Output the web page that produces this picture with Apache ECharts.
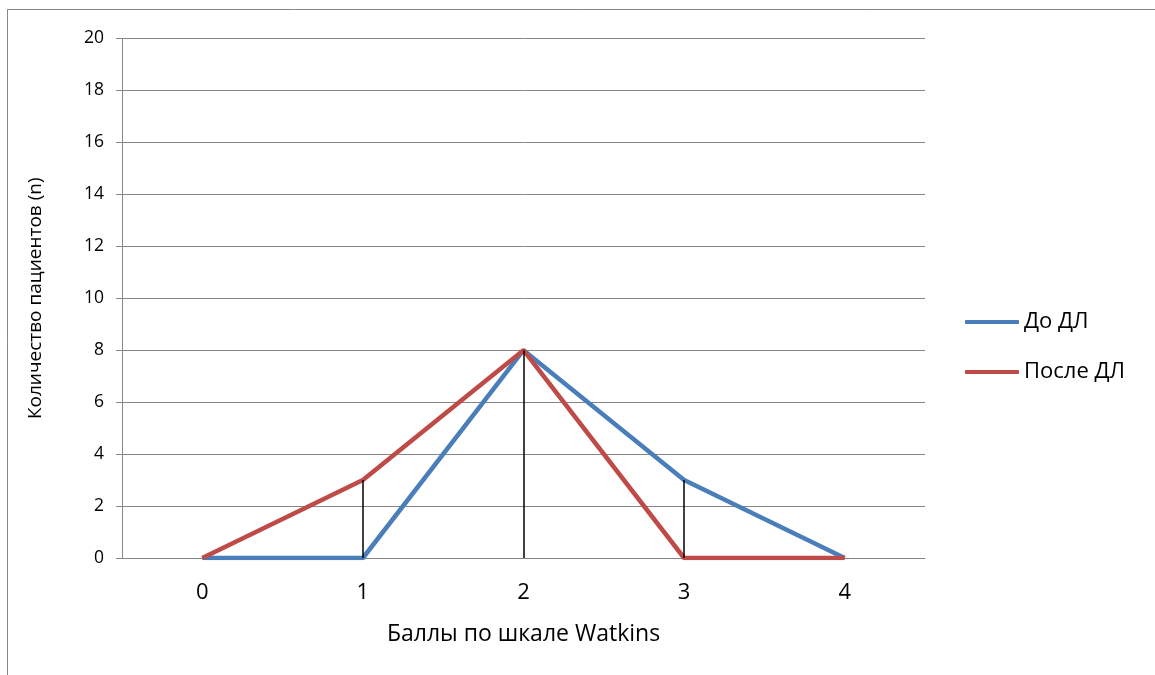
<!DOCTYPE html>
<html>
<head>
<meta charset="utf-8">
<script src="https://cdn.jsdelivr.net/npm/echarts@6/dist/echarts.min.js"></script>
<style>
  html, body { margin: 0; padding: 0; background: #fff; }
  #chart { width: 1155px; height: 675px; }
</style>
</head>
<body>
<div id="chart"></div>
<script>
// Watkins score categories and patient counts
const categories = ['0', '1', '2', '3', '4'];
const beforeDL = [0, 0, 8, 3, 0];   // До ДЛ
const afterDL = [0, 3, 8, 0, 0];    // После ДЛ
const yTicks = { min: 0, max: 20, interval: 2 };

const FONT = 'Open Sans, Liberation Sans, sans-serif';

// Drop lines: from the higher of the two values down to the axis
const dropLines = categories
  .map((c, i) => ({ c, top: Math.max(beforeDL[i], afterDL[i]) }))
  .filter(d => d.top > 0)
  .map(d => [{ coord: [d.c, 0] }, { coord: [d.c, d.top] }]);

const chart = echarts.init(document.getElementById('chart'));
chart.setOption({
  backgroundColor: '#ffffff',
  animation: false,
  graphic: [{
    type: 'rect',
    shape: { x: 7.5, y: 9.5, width: 1200, height: 720 },
    style: { fill: 'none', stroke: '#868686', lineWidth: 1 },
    silent: true,
    z: -10
  }],
  grid: { left: 122, top: 38.5, right: 230, bottom: 117 },
  legend: {
    orient: 'vertical',
    left: 960,
    top: 306,
    itemWidth: 54,
    itemHeight: 4,
    itemGap: 28,
    icon: 'roundRect',
    textStyle: { fontFamily: FONT, fontSize: 22, color: '#000', padding: [0, 0, 0, 0] },
    data: ['До ДЛ', 'После ДЛ']
  },
  xAxis: {
    type: 'category',
    data: categories,
    boundaryGap: true,
    name: 'Баллы по шкале Watkins',
    nameLocation: 'middle',
    nameGap: 65,
    nameTextStyle: { fontFamily: FONT, fontSize: 23, color: '#000' },
    axisLine: { lineStyle: { color: '#868686', width: 1 } },
    axisTick: { show: false },
    axisLabel: { fontFamily: FONT, fontSize: 22, color: '#000', margin: 24 }
  },
  yAxis: {
    type: 'value',
    min: yTicks.min,
    max: yTicks.max,
    interval: yTicks.interval,
    name: 'Количество пациентов (n)',
    nameLocation: 'middle',
    nameGap: 77,
    nameTextStyle: { fontFamily: FONT, fontSize: 19, color: '#000' },
    axisLine: { show: true, lineStyle: { color: '#868686', width: 1 } },
    axisTick: { show: true, length: 6, lineStyle: { color: '#868686' } },
    axisLabel: { fontFamily: FONT, fontSize: 17.5, color: '#000', margin: 18 },
    splitLine: { lineStyle: { color: '#868686', width: 1 } }
  },
  series: [
    {
      name: 'До ДЛ',
      type: 'line',
      data: beforeDL,
      symbol: 'none',
      color: '#4A7EBB',
      lineStyle: { width: 4.5, color: '#4A7EBB' },
      z: 3
    },
    {
      name: 'После ДЛ',
      type: 'line',
      data: afterDL,
      symbol: 'none',
      color: '#BE4B48',
      lineStyle: { width: 4.5, color: '#BE4B48' },
      z: 4
    },
    {
      name: 'drop',
      type: 'line',
      data: [],
      symbol: 'none',
      z: 5,
      markLine: {
        silent: true,
        symbol: 'none',
        label: { show: false },
        lineStyle: { color: '#000', width: 1.5, type: 'solid' },
        data: dropLines
      }
    }
  ]
});
</script>
</body>
</html>
